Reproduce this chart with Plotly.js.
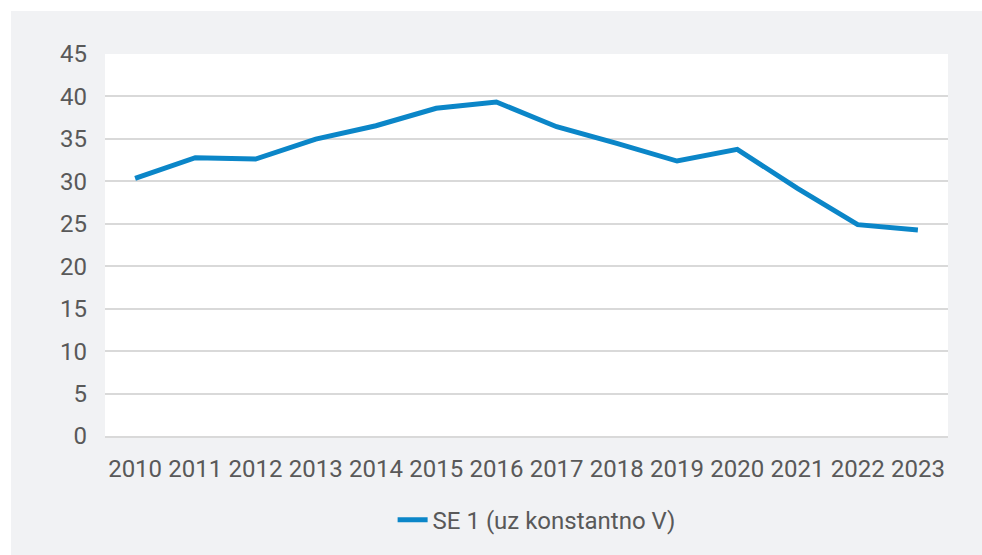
<!DOCTYPE html>
<html>
<head>
<meta charset="utf-8">
<script src="https://cdn.plot.ly/plotly-3.0.1.min.js"></script>
<style>
html,body{margin:0;padding:0;background:#ffffff;}
#chart{position:absolute;left:11px;top:11px;width:971px;height:544px;}
</style>
</head>
<body>
<div id="chart"></div>
<script>
const years = ["2010","2011","2012","2013","2014","2015","2016","2017","2018","2019","2020","2021","2022","2023"];
const seriesName = "SE 1 (uz konstantno V)";
const values = [30.35, 32.78, 32.63, 34.98, 36.55, 38.6, 39.34, 36.43, 34.47, 32.39, 33.77, 29.17, 24.9, 24.26];
const yTicks = [0,5,10,15,20,25,30,35,40,45];

const trace = {
  x: years, y: values, type: "scatter", mode: "lines", name: seriesName,
  line: {color: "#0b86c8", width: 5}
};
const layout = {
  width: 971, height: 544,
  paper_bgcolor: "#f1f2f4", plot_bgcolor: "#ffffff",
  margin: {l: 94, r: 34, t: 43, b: 119},
  font: {family: "Roboto, sans-serif", size: 24, color: "#595959"},
  xaxis: {type: "category", range: [-0.5, years.length - 0.5], showgrid: false, showline: true,
          linecolor: "#d9d9d9", linewidth: 2, ticks: "", tickfont: {size: 24, color: "#595959"},
          ticklabelstandoff: 10, automargin: false, fixedrange: true},
  yaxis: {range: [0, 45], tickvals: yTicks, ticktext: yTicks.map(String), showgrid: true,
          gridcolor: "#d9d9d9", gridwidth: 2, zeroline: false, showline: false, ticks: "",
          tickfont: {size: 24, color: "#595959"}, ticklabelstandoff: 17, automargin: false, fixedrange: true},
  showlegend: true,
  legend: {orientation: "h", x: 0.512, xanchor: "center", yref: "container", y: 0.064, yanchor: "middle",
           font: {size: 24, color: "#595959"}, bgcolor: "rgba(0,0,0,0)"}
};
Plotly.newPlot("chart", [trace], layout, {displayModeBar: false, staticPlot: true});
</script>
</body>
</html>
